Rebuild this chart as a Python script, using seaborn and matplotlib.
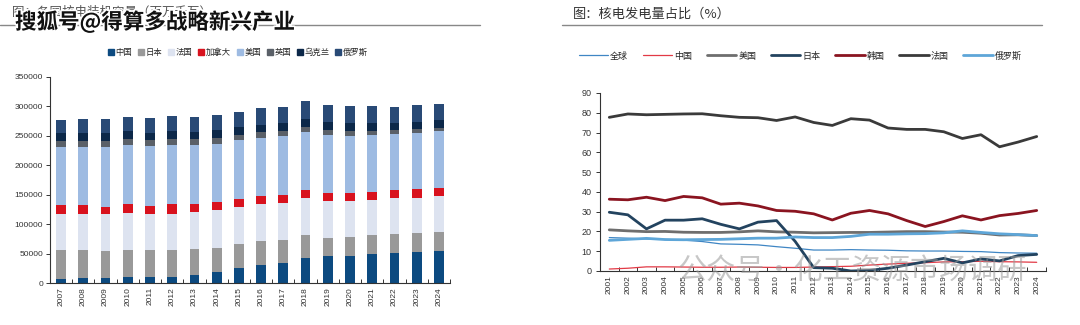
import numpy as np
import pandas as pd
import matplotlib
matplotlib.use("Agg")
import matplotlib.pyplot as plt
from matplotlib.lines import Line2D
import seaborn as sns

# ---------------- data: left chart (installed capacity) ----------------
years_cap = [str(y) for y in range(2007, 2025)]
cap_china = [7600, 8600, 8600, 10000, 10800, 11000, 14000, 19000, 26300, 30800, 33700, 42100, 45500, 46500, 48900, 51000, 52100, 54500]
cap_japan = [48000, 47000, 46000, 46800, 44800, 44600, 44300, 41000, 39900, 39900, 39300, 38800, 30800, 32000, 32000, 32100, 32100, 31900]
cap_france = [62400, 62400, 62500, 62200, 62400, 62400, 63000, 63500, 62800, 62900, 62800, 63100, 62800, 60500, 60000, 61000, 60600, 61200]
cap_canada = [14000, 14000, 12500, 14600, 12800, 15600, 13600, 14000, 14000, 13500, 13800, 14000, 13600, 13700, 14200, 14000, 14200, 13100]
cap_usa = [98700, 99700, 101200, 100400, 102000, 100900, 99100, 99200, 100000, 99800, 99600, 98500, 99300, 97100, 96400, 94600, 96300, 97500]
cap_uk = [10600, 10100, 10000, 10700, 10200, 10200, 10100, 10200, 7900, 9100, 9000, 8500, 8000, 8400, 7400, 6800, 5900, 5100]
cap_ukraine = [13000, 13600, 14100, 13000, 12400, 14000, 12900, 13000, 14100, 12900, 13000, 13000, 12900, 13000, 12400, 12300, 12700, 13500]
cap_russia = [22000, 23100, 23200, 24700, 24300, 24300, 24900, 25400, 25300, 28200, 27100, 30400, 29800, 29800, 28800, 27600, 27800, 27100]
cap_names = ["中国", "日本", "法国", "加拿大", "美国", "英国", "乌克兰", "俄罗斯"]
cap_colors = ["#0c4a80", "#999999", "#dde3f0", "#d8121e", "#9ebbe2", "#5a6068", "#0c2849", "#294a76"]

# ---------------- data: right chart (nuclear share of generation, %) ----------------
years_share = list(range(2001, 2025))
share_world = [16.9, 16.6, 16.2, 16.0, 15.6, 14.9, 13.7, 13.5, 13.2, 12.3, 11.5, 10.6, 10.6, 10.8, 10.6, 10.5, 10.2, 10.1, 10.1, 9.9, 9.8, 9.3, 9.1, 9.0]
share_china = [1.0, 1.4, 2.1, 2.1, 2.0, 1.9, 1.9, 2.0, 1.9, 1.8, 1.8, 2.0, 2.2, 2.4, 3.0, 3.5, 3.9, 4.2, 4.6, 4.7, 4.9, 4.7, 4.6, 4.4]
share_usa = [20.8, 20.3, 19.9, 20.0, 19.6, 19.5, 19.5, 19.8, 20.3, 19.8, 19.6, 19.3, 19.4, 19.5, 19.5, 19.7, 19.9, 19.9, 19.7, 19.6, 19.1, 18.2, 18.3, 17.9]
share_japan = [29.7, 28.4, 21.3, 25.7, 25.7, 26.4, 23.6, 21.3, 24.7, 25.5, 15.0, 1.7, 1.4, 0.0, 0.3, 1.4, 3.0, 4.7, 6.4, 4.1, 6.1, 5.1, 7.8, 8.4]
share_korea = [36.3, 36.0, 37.3, 35.6, 37.7, 37.0, 33.8, 34.3, 32.9, 30.6, 30.2, 28.9, 25.8, 29.2, 30.6, 28.9, 25.5, 22.5, 25.0, 27.9, 25.8, 28.0, 29.1, 30.6]
share_france = [77.7, 79.4, 79.0, 79.2, 79.4, 79.5, 78.5, 77.7, 77.5, 76.1, 77.9, 75.1, 73.6, 77.0, 76.3, 72.3, 71.6, 71.6, 70.4, 67.0, 68.9, 62.8, 65.2, 68.0]
share_russia = [15.5, 16.0, 16.5, 15.9, 15.8, 15.9, 16.0, 16.3, 16.6, 16.6, 17.2, 16.9, 16.9, 17.5, 18.6, 18.6, 18.8, 18.9, 19.3, 20.3, 19.5, 18.8, 18.4, 17.9]
share_names = ["全球", "中国", "美国", "日本", "韩国", "法国", "俄罗斯"]
share_colors = ["#3f86c4", "#e23a46", "#6e6e6e", "#23435f", "#8a1420", "#3a3a3a", "#5ea6d8"]
share_widths = [0.9, 0.9, 2.0, 2.0, 2.0, 2.0, 2.0]

sns.set_theme(style="white")
plt.rcParams["font.family"] = ["Liberation Sans", "Noto Sans CJK SC", "DejaVu Sans"]
CJK = ["Noto Sans CJK SC", "DejaVu Sans"]

fig = plt.figure(figsize=(10.8, 3.25), dpi=100)

# ---------------- left: stacked bars ----------------
axL = fig.add_axes([50 / 1080, 42 / 325, 400 / 1080, 206 / 325])
series = [cap_china, cap_japan, cap_france, cap_canada, cap_usa, cap_uk, cap_ukraine, cap_russia]
cum = np.cumsum(np.array(series, dtype=float), axis=0)
for i in range(len(series) - 1, -1, -1):
    df = pd.DataFrame({"year": years_cap, "v": cum[i]})
    sns.barplot(data=df, x="year", y="v", color=cap_colors[i], saturation=1,
                width=0.44, ax=axL, errorbar=None, linewidth=0)
axL.set_xlim(-0.5, len(years_cap) - 0.5)
axL.set_ylim(0, 350000)
axL.set_yticks(range(0, 350001, 50000))
axL.set_yticklabels([str(v) for v in range(0, 350001, 50000)], fontsize=6, color="#333333")
axL.set_xticks(range(len(years_cap)))
axL.set_xticklabels(years_cap, rotation=90, fontsize=6, color="#333333")
axL.set_xlabel("")
axL.set_ylabel("")
for s in ["top", "right"]:
    axL.spines[s].set_visible(False)
for s in ["left", "bottom"]:
    axL.spines[s].set_color("#333333")
    axL.spines[s].set_linewidth(0.8)
axL.tick_params(axis="y", direction="out", length=3, width=0.7, color="#333333", pad=2, left=True)
axL.tick_params(axis="x", which="major", length=0, pad=3)
axL.set_xticks(np.arange(-0.5, len(years_cap), 1.0), minor=True)
axL.tick_params(axis="x", which="minor", direction="in", length=3, width=0.7, color="#333333", bottom=True)

handlesL = [Line2D([], [], marker="s", linestyle="none", markersize=4.2, color=c) for c in cap_colors]
fig.legend(handlesL, cap_names, loc="center", bbox_to_anchor=(238 / 1080, 1 - 52 / 325), ncol=8,
           frameon=False, prop={"family": CJK, "size": 6}, handlelength=0.7, handletextpad=0.2,
           columnspacing=0.7)

# ---------------- right: lines ----------------
axR = fig.add_axes([600 / 1080, 54 / 325, 446 / 1080, 178 / 325])
share_series = [share_world, share_china, share_usa, share_japan, share_korea, share_france, share_russia]
long = pd.concat([pd.DataFrame({"year": years_share, "v": s, "name": n})
                  for s, n in zip(share_series, share_names)], ignore_index=True)
for n, c, w in zip(share_names, share_colors, share_widths):
    sns.lineplot(data=long[long["name"] == n], x="year", y="v", color=c, linewidth=w,
                 ax=axR, legend=False)
axR.set_xlim(2000.5, 2024.5)
axR.set_ylim(0, 90)
axR.set_yticks(range(0, 91, 10))
axR.set_yticklabels([str(v) for v in range(0, 91, 10)], fontsize=6.5, color="#333333")
axR.set_xticks(years_share)
axR.set_xticklabels([str(y) for y in years_share], rotation=90, fontsize=6, color="#333333")
axR.set_xlabel("")
axR.set_ylabel("")
for s in ["top", "right"]:
    axR.spines[s].set_visible(False)
for s in ["left", "bottom"]:
    axR.spines[s].set_color("#333333")
    axR.spines[s].set_linewidth(0.8)
axR.tick_params(axis="y", direction="out", length=3, width=0.7, color="#333333", pad=3, left=True)
axR.tick_params(axis="x", which="major", length=0, pad=3)
axR.set_xticks(np.arange(2000.5, 2025, 1.0), minor=True)
axR.tick_params(axis="x", which="minor", direction="in", length=3, width=0.7, color="#333333", bottom=True)

handlesR = [Line2D([], [], color=c, linewidth=w) for c, w in zip(share_colors, share_widths)]
fig.legend(handlesR, share_names, loc="center", bbox_to_anchor=(800 / 1080, 1 - 56 / 325), ncol=7,
           frameon=False, prop={"family": CJK, "size": 6.5}, handlelength=3.3, handletextpad=0.2,
           columnspacing=1.6)

# ---------------- titles and rules ----------------
fig.text(12 / 1080, 1 - 12 / 325, "图：各国核电装机容量（百万千瓦）", fontsize=9, color="#555555",
         family=CJK, va="center", ha="left")
fig.text(573 / 1080, 1 - 14 / 325, "图：核电发电量占比（%）", fontsize=9.5, color="#333333",
         family=CJK, va="center", ha="left")
fig.add_artist(Line2D([0 / 1080, 480 / 1080], [1 - 24.5 / 325] * 2, color="#888888", linewidth=1.0))
fig.add_artist(Line2D([562 / 1080, 1042 / 1080], [1 - 24.5 / 325] * 2, color="#888888", linewidth=1.0))

# ---------------- watermarks ----------------
import matplotlib.patheffects as pe
fig.text(15 / 1080, 1 - 22 / 325, "搜狐号@得算多战略新兴产业", fontsize=15.5, color="#111111",
         family=CJK, weight="bold", va="center", ha="left",
         path_effects=[pe.withStroke(linewidth=2.5, foreground="white")])
fig.text(678 / 1080, 1 - 272 / 325, "公众号·化工资源市场调研", fontsize=21, color="#999999", alpha=0.55,
         family=CJK, va="center", ha="left")

fig.savefig("out.png", dpi=100, facecolor="white")
